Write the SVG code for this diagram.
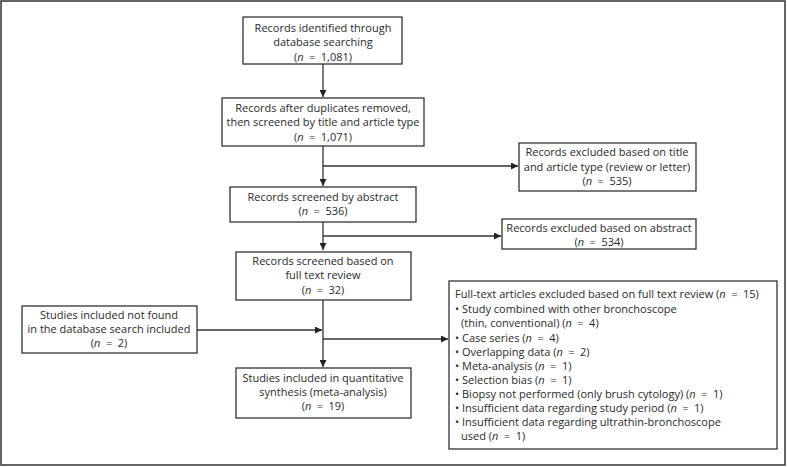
<svg xmlns="http://www.w3.org/2000/svg" width="787" height="467" viewBox="0 0 787 467">
<style>
.frame{fill:#fff;stroke:#333;stroke-width:1.5}
.box{fill:#fff;stroke:#333;stroke-width:1.3}
.t{font-family:"Open Sans","Noto Sans","DejaVu Sans",sans-serif;font-size:11px;fill:#2a2a2a}
.c{text-anchor:middle}
.i{font-style:italic}
.ln{fill:none;stroke:#333;stroke-width:1.3}
</style>
<defs>
<marker id="ah" viewBox="0 0 10 10" refX="10" refY="5" markerWidth="7" markerHeight="7" markerUnits="userSpaceOnUse" orient="auto">
<path d="M0,0 L10,5 L0,10 Z" fill="#222"/>
</marker>
</defs>
<rect class="frame" x="1" y="1" width="784" height="464"/>
<g id="connectors">
<path class="ln" d="M323,64 V97" marker-end="url(#ah)"/>
<path class="ln" d="M323,146 V186" marker-end="url(#ah)"/>
<path class="ln" d="M323,166 H518" marker-end="url(#ah)"/>
<path class="ln" d="M323,222 V250" marker-end="url(#ah)"/>
<path class="ln" d="M323,236 H501" marker-end="url(#ah)"/>
<path class="ln" d="M323,300 V367" marker-end="url(#ah)"/>
<path class="ln" d="M197,330 H322" marker-end="url(#ah)"/>
<path class="ln" d="M323,339 H448" marker-end="url(#ah)"/>
</g>
<g id="n1">
<rect class="box" x="243" y="17" width="159" height="47"/>
<text class="t c" x="323" y="32">Records identified through</text>
<text class="t c" x="323" y="46">database searching</text>
<text class="t c" x="323" y="61">(<tspan class="i">n</tspan>&#8194;=&#8194;1,081)</text>
</g>
<g id="n2">
<rect class="box" x="222" y="98" width="202" height="48"/>
<text class="t c" x="323" y="112">Records after duplicates removed,</text>
<text class="t c" x="323" y="126">then screened by title and article type</text>
<text class="t c" x="323" y="141">(<tspan class="i">n</tspan>&#8194;=&#8194;1,071)</text>
</g>
<g id="n3">
<rect class="box" x="230" y="187" width="186" height="35"/>
<text class="t c" x="323" y="201">Records screened by abstract</text>
<text class="t c" x="323" y="215">(<tspan class="i">n</tspan>&#8194;=&#8194;536)</text>
</g>
<g id="n4">
<rect class="box" x="519" y="143" width="177" height="48"/>
<text class="t c" x="607" y="156">Records excluded based on title</text>
<text class="t c" x="607" y="171">and article type (review or letter)</text>
<text class="t c" x="607" y="185">(<tspan class="i">n</tspan>&#8194;=&#8194;535)</text>
</g>
<g id="n5">
<rect class="box" x="502" y="219" width="194" height="30"/>
<text class="t c" x="599" y="232">Records excluded based on abstract</text>
<text class="t c" x="599" y="246">(<tspan class="i">n</tspan>&#8194;=&#8194;534)</text>
</g>
<g id="n6">
<rect class="box" x="236" y="252" width="175" height="48"/>
<text class="t c" x="323" y="265">Records screened based on</text>
<text class="t c" x="323" y="279">full text review</text>
<text class="t c" x="323" y="294">(<tspan class="i">n</tspan>&#8194;=&#8194;32)</text>
</g>
<g id="n7">
<rect class="box" x="22" y="306" width="175" height="47"/>
<text class="t c" x="109" y="319">Studies included not found</text>
<text class="t c" x="109" y="333">in the database search included</text>
<text class="t c" x="109" y="347">(<tspan class="i">n</tspan>&#8194;=&#8194;2)</text>
</g>
<g id="n8">
<rect class="box" x="236" y="368" width="175" height="50"/>
<text class="t c" x="323" y="382">Studies included in quantitative</text>
<text class="t c" x="323" y="396">synthesis (meta-analysis)</text>
<text class="t c" x="323" y="410">(<tspan class="i">n</tspan>&#8194;=&#8194;19)</text>
</g>
<g id="n9">
<rect class="box" x="449" y="281" width="328" height="168"/>
<text class="t" x="455" y="298">Full-text articles excluded based on full text review (<tspan class="i">n</tspan>&#8194;=&#8194;15)</text>
<text class="t" x="455" y="313">• Study combined with other bronchoscope</text>
<text class="t" x="461" y="327">(thin, conventional) (<tspan class="i">n</tspan>&#8194;=&#8194;4)</text>
<text class="t" x="455" y="342">• Case series (<tspan class="i">n</tspan>&#8194;=&#8194;4)</text>
<text class="t" x="455" y="356">• Overlapping data (<tspan class="i">n</tspan>&#8194;=&#8194;2)</text>
<text class="t" x="455" y="370">• Meta-analysis (<tspan class="i">n</tspan>&#8194;=&#8194;1)</text>
<text class="t" x="455" y="384">• Selection bias (<tspan class="i">n</tspan>&#8194;=&#8194;1)</text>
<text class="t" x="455" y="398">• Biopsy not performed (only brush cytology) (<tspan class="i">n</tspan>&#8194;=&#8194;1)</text>
<text class="t" x="455" y="412">• Insufficient data regarding study period (<tspan class="i">n</tspan>&#8194;=&#8194;1)</text>
<text class="t" x="455" y="426">• Insufficient data regarding ultrathin-bronchoscope</text>
<text class="t" x="461" y="440">used (<tspan class="i">n</tspan>&#8194;=&#8194;1)</text>
</g>
</svg>
